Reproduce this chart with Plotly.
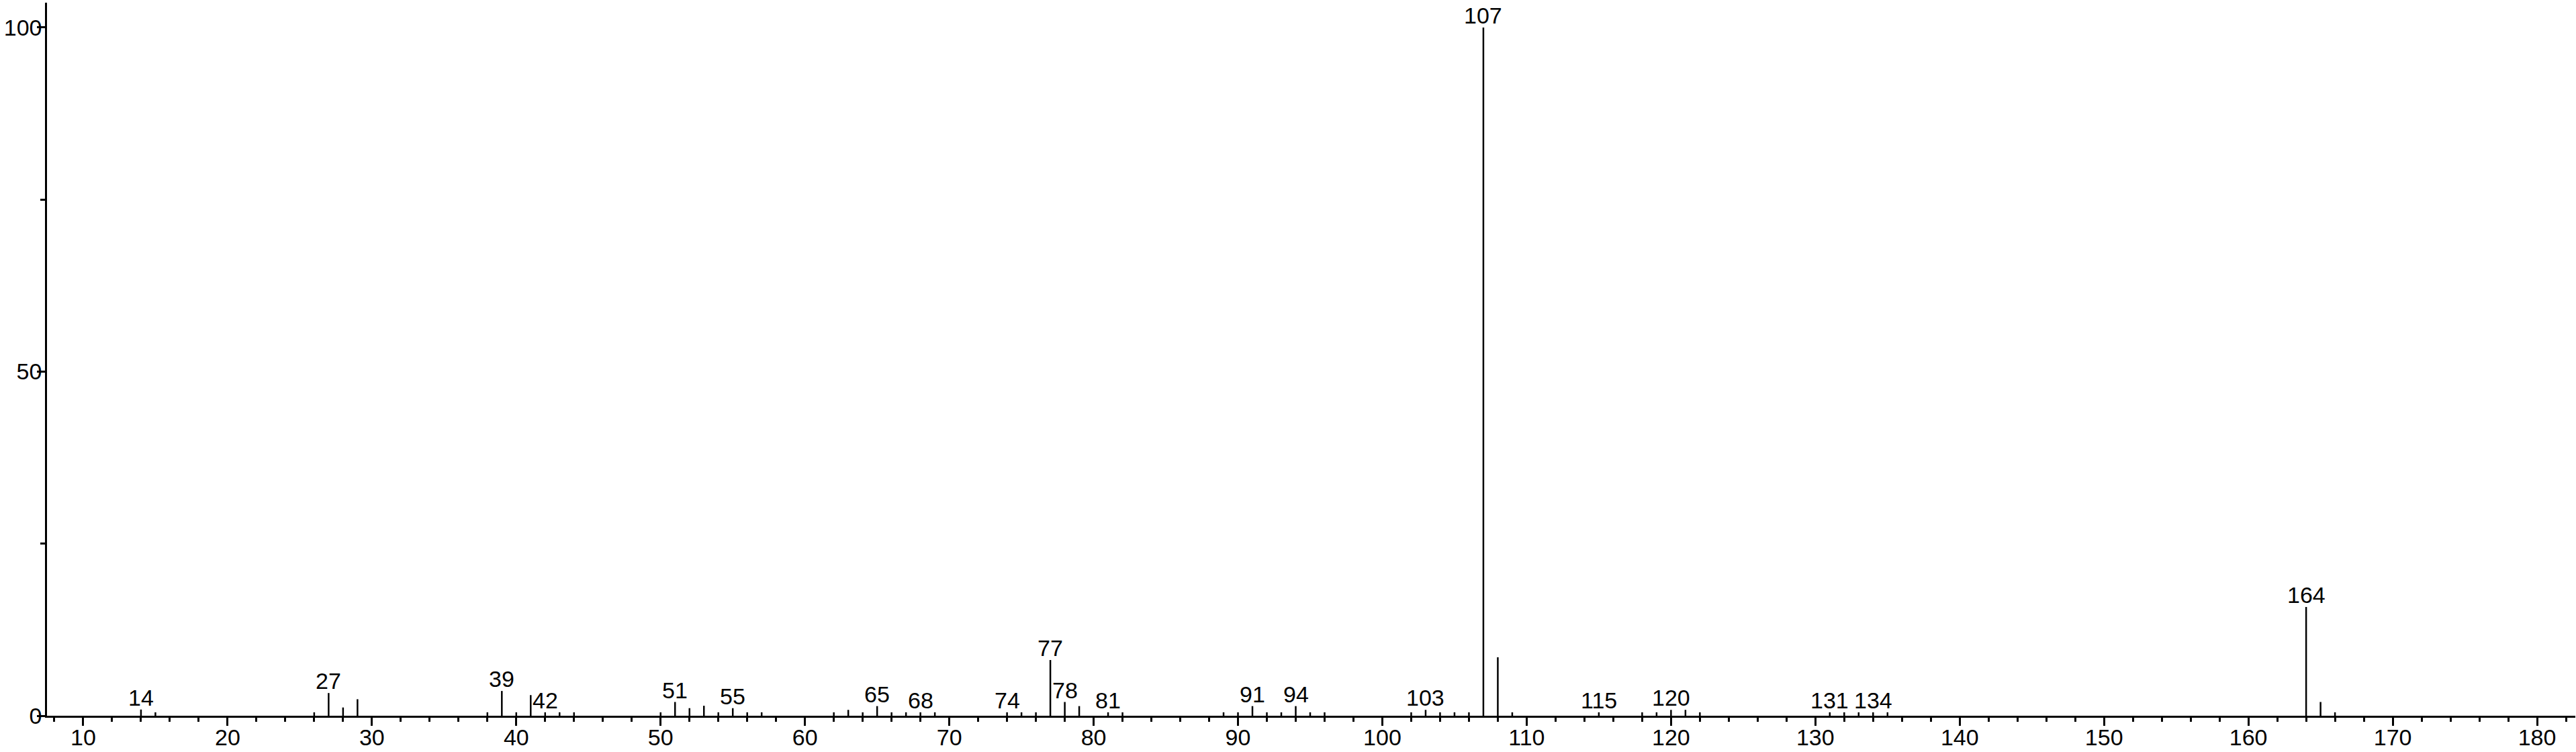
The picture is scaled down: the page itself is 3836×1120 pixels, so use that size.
import plotly.graph_objects as go

# m/z values and relative intensities
mz = [14, 15, 26, 27, 28, 29, 38, 39, 40, 41, 42, 43, 44, 50, 51, 52, 53, 54, 55, 56, 57,
      62, 63, 64, 65, 66, 67, 68, 69, 74, 75, 76, 77, 78, 79, 81, 82, 89, 90, 91, 92, 93,
      94, 95, 96, 102, 103, 104, 105, 106, 107, 108, 109, 115, 118, 119, 120, 121, 122,
      131, 132, 133, 134, 135, 164, 165, 166]
intensity = [0.9, 0.5, 0.5, 3.3, 1.2, 2.4, 0.5, 3.6, 0.5, 3.0, 0.5, 0.5, 0.5, 0.5, 2.0, 1.1, 1.45, 0.5, 1.1, 0.5, 0.5,
             0.5, 0.85, 0.5, 1.4, 0.5, 0.5, 0.5, 0.5, 0.5, 0.5, 0.5, 8.1, 2.0, 1.4, 0.5, 0.5, 0.5, 0.5, 1.4, 0.5, 0.5,
             1.4, 0.5, 0.5, 0.5, 0.85, 0.5, 0.5, 0.5, 100.0, 8.5, 0.5, 0.5, 0.5, 0.5, 0.85, 0.85, 0.5,
             0.5, 0.5, 0.5, 0.5, 0.5, 15.8, 2.0, 0.5]
labeled_mz = [14, 27, 39, 42, 51, 55, 65, 68, 74, 77, 78, 81, 91, 94, 103, 107, 115, 120, 131, 134, 164]

x_ticks = list(range(10, 181, 10))
y_ticks = [0, 50, 100]

FONT = "Liberation Sans, Arial, sans-serif"
FS = 34

xs, ys = [], []
for m, v in zip(mz, intensity):
    xs += [m, m, None]
    ys += [0, v, None]

fig = go.Figure()
fig.add_trace(go.Scatter(x=xs, y=ys, mode="lines",
                         line=dict(color="black", width=2.5),
                         hoverinfo="skip", showlegend=False))

lookup = dict(zip(mz, intensity))
for m in labeled_mz:
    fig.add_annotation(x=m, y=lookup[m], text=str(m), showarrow=False,
                       xanchor="center", yanchor="bottom", yshift=-3,
                       font=dict(family=FONT, size=FS, color="black"))

fig.update_layout(
    template="none",
    width=3836, height=1120,
    margin=dict(l=70, r=1, t=4, b=54, pad=0),
    paper_bgcolor="white", plot_bgcolor="white",
    font=dict(family=FONT, size=FS, color="black"),
    showlegend=False,
)
fig.update_xaxes(range=[7.49, 182.65], tickvals=x_ticks, ticktext=[str(t) for t in x_ticks],
                 automargin=False, ticklabelstandoff=-12,
                 ticks="outside", ticklen=12, tickwidth=2.5, tickcolor="black",
                 showline=True, linecolor="black", linewidth=2.5,
                 showgrid=False, zeroline=False,
                 minor=dict(dtick=2, tick0=0, ticks="outside", ticklen=6, tickwidth=2.5,
                            tickcolor="black", showgrid=False),
                 tickfont=dict(family=FONT, size=FS, color="black"))
fig.update_yaxes(range=[0, 103.6], tickvals=y_ticks, ticktext=[str(t) for t in y_ticks],
                 automargin=False, ticklabelstandoff=-14,
                 ticks="outside", ticklen=12, tickwidth=2.5, tickcolor="black",
                 showline=True, linecolor="black", linewidth=2.5,
                 showgrid=False, zeroline=False,
                 minor=dict(dtick=25, tick0=0, ticks="outside", ticklen=7, tickwidth=2.5,
                            tickcolor="black", showgrid=False),
                 tickfont=dict(family=FONT, size=FS, color="black"))

fig.write_html("out.html", config={"displayModeBar": False},
               post_script="document.body.style.margin='0';document.body.style.padding='0';")
